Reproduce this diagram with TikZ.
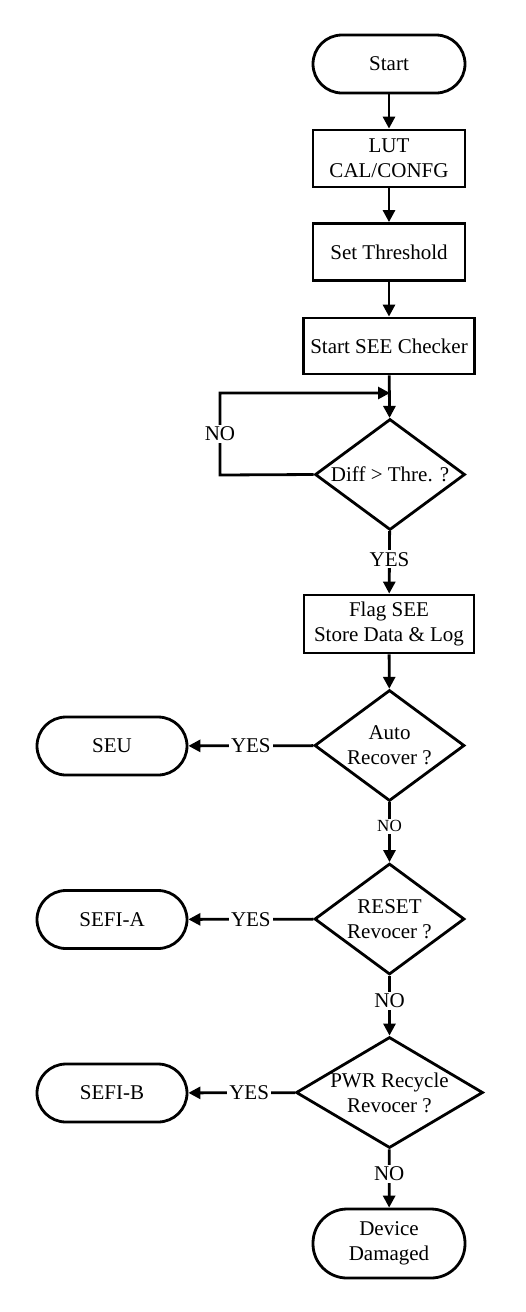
\documentclass[tikz,border=0pt]{standalone}
\usepackage{fontspec}
\setmainfont{Liberation Serif}
\usetikzlibrary{arrows.meta,shapes.geometric}

\begin{document}
\begin{tikzpicture}[x=0.5pt,y=-0.5pt,line width=1.4pt,
  >={Triangle[length=6pt,width=6pt]},
  every node/.style={font=\fontsize{10.5}{12.5}\selectfont,align=center},
  term/.style={draw,rectangle,rounded corners=14.5pt,minimum width=76pt,minimum height=29pt},
  proc/.style={draw,rectangle,minimum width=76pt,minimum height=28.5pt},
  cond/.style={draw,diamond,inner xsep=-22pt,inner ysep=-9pt,minimum width=75pt,minimum height=55.5pt},
  lbl/.style={fill=white,inner sep=1pt}]
\useasboundingbox (0,0) rectangle (525,1312);
% main column
\node[term] (start) at (389,64) {Start};
\node[proc] (lut) at (389,158.5) {LUT\\CAL/CONFG};
\node[proc] (thr) at (389,252) {Set Threshold};
\node[proc,minimum width=85pt,minimum height=28pt] (chk) at (389,346) {Start SEE Checker};
\node[cond] (diff) at (390,474.5) {Diff > Thre. ?};
\node[proc,minimum width=85pt,minimum height=29pt] (flag) at (389,624) {Flag SEE\\Store Data \& Log};
\node[cond] (auto) at (389.5,745.5) {Auto\\Recover ?};
\node[cond] (reset) at (389.5,919) {RESET\\Revocer ?};
\node[cond,minimum width=93.5pt] (pwr) at (389.5,1092.5) {PWR Recycle\\Revocer ?};
\node[term,rounded corners=17pt,minimum height=34.5pt] (dev) at (389,1243.5) {Device\\Damaged};
% left column
\node[term,minimum width=75pt] (seu) at (112,746) {SEU};
\node[term,minimum width=75pt] (sefia) at (112,919.5) {SEFI-A};
\node[term,minimum width=75pt] (sefib) at (112,1093) {SEFI-B};
% loop corners
\coordinate (c1) at (220,475);
\coordinate (c2) at (220,393);
\coordinate (j) at (390,393);

\draw[->] (start) -- (lut);
\draw[->] (lut) -- (thr);
\draw[->] (thr) -- (chk);
\draw[->] (chk) -- (diff);
\draw[->] (diff.west) -- (c1) -- node[lbl]{NO} (c2) -- (j);
\draw[->] (diff) -- node[lbl,pos=0.45]{YES} (flag);
\draw[->] (flag) -- (auto);
\draw[->] (auto) -- node[lbl]{YES} (seu);
\draw[->] (auto) -- node[lbl,pos=0.4,font=\fontsize{8.5}{10}\selectfont]{NO} (reset);
\draw[->] (reset) -- node[lbl]{YES} (sefia);
\draw[->] (reset) -- node[lbl,pos=0.42]{NO} (pwr);
\draw[->] (pwr) -- node[lbl,pos=0.43]{YES} (sefib);
\draw[->] (pwr) -- node[lbl,pos=0.42]{NO} (dev);
\end{tikzpicture}
\end{document}
